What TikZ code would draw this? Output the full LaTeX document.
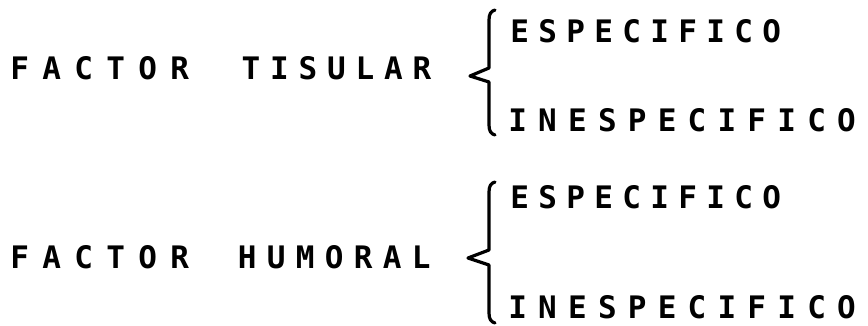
\documentclass[tikz,border=0pt]{standalone}
\usepackage{fontspec}
\newfontfamily\lett{DejaVu Sans Mono}
\makeatletter
\newcommand\lspc[2]{\@tfor\lspc@c:=#2\do{\makebox[#1][c]{\lspc@c}}}
\makeatother
\begin{document}
\begin{tikzpicture}[x=1pt,y=-1pt,
  lbl/.style={anchor=base west, inner sep=0pt, font=\lett\bfseries\fontsize{31}{31}\selectfont},
  bracepath/.style={line width=3.2pt, line cap=round, line join=round}]
\useasboundingbox[fill=white] (0,0) rectangle (868,325);
% top group
\node[lbl] (t1) at (3.5,79) {\lspc{32pt}{FACTOR}\hspace{41pt}\lspc{28.5pt}{TISULAR}};
\node[lbl] (e1) at (505.5,42) {\lspc{28pt}{ESPECIFICO}};
\node[lbl] (i1) at (502.5,131) {\lspc{29.9pt}{INESPECIFICO}};
\coordinate (b1tip) at (470,76);
\draw[bracepath] (495,10) .. controls (491,11) and (489,14) .. (489,20)
  -- (489,68) -- (b1tip) -- (489,82) -- (489,125)
  .. controls (489,131) and (491,134) .. (495,135);
% bottom group
\node[lbl] (t2) at (3.5,268) {\lspc{32pt}{FACTOR}\hspace{37pt}\lspc{29pt}{HUMORAL}};
\node[lbl] (e2) at (505.5,208) {\lspc{28pt}{ESPECIFICO}};
\node[lbl] (i2) at (502.5,318) {\lspc{29.9pt}{INESPECIFICO}};
\coordinate (b2tip) at (468,258);
\draw[bracepath] (495,182) .. controls (491,183) and (489,186) .. (489,192)
  -- (489,250) -- (b2tip) -- (489,265) -- (489,313)
  .. controls (489,319) and (491,322) .. (495,323);
\end{tikzpicture}
\end{document}
